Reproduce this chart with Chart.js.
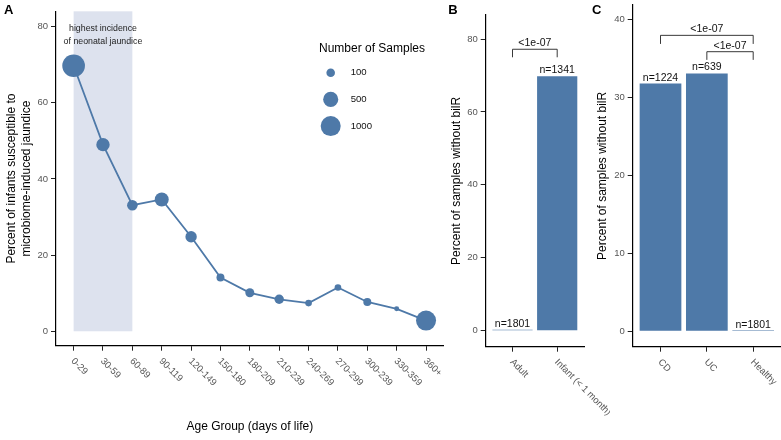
<!DOCTYPE html>
<html>
<head>
<meta charset="utf-8">
<script src="https://cdn.jsdelivr.net/npm/chart.js@4.4.0/dist/chart.umd.min.js"></script>
<style>
  html, body { margin: 0; padding: 0; background: #fff; }
  #wrap { position: relative; width: 781px; height: 440px; overflow: hidden; }
  canvas { position: absolute; top: 0; }
</style>
</head>
<body>
<div id="wrap">
  <canvas id="panelA" width="455" height="440" style="left:0px"></canvas>
  <canvas id="panelB" width="170" height="440" style="left:440px"></canvas>
  <canvas id="panelC" width="191" height="440" style="left:590px"></canvas>
</div>
<script>
// A - by age group
var ageGroups = ['0-29', '30-59', '60-89', '90-119', '120-149', '150-180', '180-209',
    '210-239', '240-269', '270-299', '300-239', '330-359', '360+'];
var pctSusceptible = [69.7, 49.0, 33.1, 34.6, 24.8, 14.1, 10.1, 8.4, 7.4, 11.5, 7.7, 5.9, 2.8];
var nSamples = [1341, 364, 190, 409, 234, 78, 116, 133, 39, 39, 78, 10, 1000];
var legendSizes = [100, 500, 1000];
var yTicksA = [0, 20, 40, 60, 80];

// B - adult vs infant
var groupsB = ['Adult', 'Infant (< 1 month)'];
var pctB = [0.06, 69.8];
var nB = [1801, 1341];
var yTicksB = [0, 20, 40, 60, 80];

// C - IBD vs healthy
var groupsC = ['CD', 'UC', 'Healthy'];
var pctC = [31.8, 33.1, 0.06];
var nC = [1224, 639, 1801];
var yTicksC = [0, 10, 20, 30, 40];

var pText = '<1e-07';

var blue = '#4e79a8';
var FONT = '"Liberation Sans", Arial, sans-serif';
Chart.defaults.font.family = FONT;

function sizeFor(n) {
    return 1.66 + 0.264 * Math.sqrt(n);
}

function xy(vals) {
    var out = [];
    for (var i = 0; i < vals.length; i++) {
        out.push({ x: i, y: vals[i] });
    }
    return out;
}

function yScale(min, max, ticks, title, titlePad, w) {
    return {
        type: 'linear',
        min: min,
        max: max,
        afterBuildTicks: function (s) {
            s.ticks = ticks.map(function (v) { return { value: v }; });
        },
        afterFit: function (s) {
            s.width = w;
            s.paddingTop = 0;
            s.paddingBottom = 0;
        },
        border: { display: true, color: '#000', width: 1.2 },
        grid: { drawOnChartArea: false, tickLength: 5, tickColor: '#222', lineWidth: 1 },
        ticks: { color: '#555', padding: 3, font: { size: 9.5 } },
        title: {
            display: true,
            text: title,
            color: '#000',
            font: { size: 12 },
            padding: { top: titlePad, bottom: 0 }
        }
    };
}

function xScale(n, h) {
    return {
        type: 'linear',
        offset: false,
        min: -0.6,
        max: n - 1 + 0.6,
        afterBuildTicks: function (s) {
            var t = [];
            for (var i = 0; i < n; i++) t.push({ value: i });
            s.ticks = t;
        },
        afterFit: function (s) {
            s.height = h;
        },
        border: { display: true, color: '#000', width: 1.2 },
        grid: { offset: false, drawOnChartArea: false, tickLength: 5, tickColor: '#222', lineWidth: 1 },
        ticks: { display: false }
    };
}

function drawTickLabels(chart, labels) {
    var ctx = chart.ctx;
    var x = chart.scales.x;
    var bottom = chart.chartArea.bottom;
    ctx.save();
    ctx.fillStyle = '#555';
    ctx.font = '9.5px ' + FONT;
    ctx.textAlign = 'left';
    ctx.textBaseline = 'middle';
    for (var i = 0; i < labels.length; i++) {
        ctx.save();
        ctx.translate(x.getPixelForValue(i) - 1, bottom + 14);
        ctx.rotate(Math.PI / 4);
        ctx.fillText(labels[i], 0, 0);
        ctx.restore();
    }
    ctx.restore();
}

function drawLetter(chart, letter, px) {
    var ctx = chart.ctx;
    ctx.save();
    ctx.fillStyle = '#000';
    ctx.font = 'bold 13px ' + FONT;
    ctx.textAlign = 'left';
    ctx.textBaseline = 'alphabetic';
    ctx.fillText(letter, px, 13.7);
    ctx.restore();
}

function drawCounts(chart, vals, counts) {
    var ctx = chart.ctx;
    var x = chart.scales.x, y = chart.scales.y;
    ctx.save();
    ctx.fillStyle = '#111';
    ctx.font = '10.5px ' + FONT;
    ctx.textAlign = 'center';
    ctx.textBaseline = 'alphabetic';
    for (var i = 0; i < vals.length; i++) {
        ctx.fillText('n=' + counts[i], x.getPixelForValue(i), y.getPixelForValue(vals[i]) - 3);
    }
    ctx.restore();
}

function drawBracket(chart, from, to, top, leg) {
    var ctx = chart.ctx;
    var x = chart.scales.x, y = chart.scales.y;
    var x1 = x.getPixelForValue(from), x2 = x.getPixelForValue(to);
    var yt = y.getPixelForValue(top), yl = y.getPixelForValue(leg);
    ctx.save();
    ctx.strokeStyle = '#222';
    ctx.lineWidth = 0.9;
    ctx.beginPath();
    ctx.moveTo(x1, yl);
    ctx.lineTo(x1, yt);
    ctx.lineTo(x2, yt);
    ctx.lineTo(x2, yl);
    ctx.stroke();
    ctx.fillStyle = '#111';
    ctx.font = '10.5px ' + FONT;
    ctx.textAlign = 'center';
    ctx.textBaseline = 'alphabetic';
    ctx.fillText(pText, (x1 + x2) / 2, yt - 3);
    ctx.restore();
}

// PANEL A
var extrasA = {
    id: 'extrasA',
    beforeDatasetsDraw: function (chart) {
        var ctx = chart.ctx, x = chart.scales.x, y = chart.scales.y, a = chart.chartArea;
        var x1 = x.getPixelForValue(0), x2 = x.getPixelForValue(2);
        ctx.save();
        ctx.fillStyle = '#dde2ee';
        ctx.fillRect(x1, a.top, x2 - x1, y.getPixelForValue(0) - a.top);
        ctx.fillStyle = '#222';
        ctx.font = '8.8px ' + FONT;
        ctx.textAlign = 'center';
        ctx.textBaseline = 'middle';
        ctx.fillText('highest incidence', x.getPixelForValue(1), a.top + 17.5);
        ctx.fillText('of neonatal jaundice', x.getPixelForValue(1), a.top + 30);
        ctx.restore();
    },
    afterDraw: function (chart) {
        var ctx = chart.ctx;
        drawTickLabels(chart, ageGroups);
        drawLetter(chart, 'A', 4);
        // size legend
        ctx.save();
        ctx.fillStyle = '#000';
        ctx.font = '12px ' + FONT;
        ctx.textAlign = 'center';
        ctx.textBaseline = 'alphabetic';
        ctx.fillText('Number of Samples', 372, 52);
        ctx.font = '9.6px ' + FONT;
        ctx.textAlign = 'left';
        ctx.textBaseline = 'middle';
        for (var i = 0; i < legendSizes.length; i++) {
            var cy = 72.7 + i * 26.7;
            ctx.fillStyle = blue;
            ctx.beginPath();
            ctx.arc(330.7, cy, sizeFor(legendSizes[i]), 0, Math.PI * 2);
            ctx.fill();
            ctx.fillStyle = '#111';
            ctx.fillText(String(legendSizes[i]), 350.7, cy);
        }
        ctx.restore();
    }
};

new Chart(document.getElementById('panelA'), {
    type: 'line',
    data: {
        datasets: [{
            data: xy(pctSusceptible),
            borderColor: blue,
            backgroundColor: blue,
            borderWidth: 1.8,
            tension: 0,
            pointRadius: nSamples.map(sizeFor),
            pointBackgroundColor: blue,
            pointBorderWidth: 0
        }]
    },
    options: {
        responsive: false,
        animation: false,
        events: [],
        devicePixelRatio: 1,
        layout: { padding: { left: 0, top: 5, right: 4.3, bottom: 0 } },
        plugins: { legend: { display: false }, tooltip: { enabled: false } },
        scales: {
            x: Object.assign(xScale(ageGroups.length, 94.3), {
                title: { display: true, text: 'Age Group (days of life)', color: '#000', font: { size: 12 }, padding: { top: 0, bottom: 6 }, align: 'center' }
            }),
            y: yScale(-3.79, 84.0, yTicksA, ['Percent of infants susceptible to', 'microbiome-induced jaundice'], 4.8, 56)
        }
    },
    plugins: [extrasA]
});

// PANEL B
var extrasB = {
    id: 'extrasB',
    afterDraw: function (chart) {
        drawTickLabels(chart, groupsB);
        drawLetter(chart, 'B', 8.3);
        drawCounts(chart, pctB, nB);
        drawBracket(chart, 0, 1, 77.2, 75.0);
    }
};

new Chart(document.getElementById('panelB'), {
    type: 'bar',
    data: {
        datasets: [{
            data: xy(pctB),
            backgroundColor: blue,
            borderWidth: 0,
            minBarLength: 1,
            barPercentage: 0.9,
            categoryPercentage: 1
        }]
    },
    options: {
        responsive: false,
        animation: false,
        events: [],
        devicePixelRatio: 1,
        layout: { padding: { left: 0, top: 15, right: 26, bottom: 0 } },
        plugins: { legend: { display: false }, tooltip: { enabled: false } },
        scales: {
            x: xScale(groupsB.length, 93.3),
            y: yScale(-4.4, 86.6, yTicksB, 'Percent of samples without bilR', 9.5, 45.7)
        }
    },
    plugins: [extrasB]
});

// PANEL C
var extrasC = {
    id: 'extrasC',
    afterDraw: function (chart) {
        drawTickLabels(chart, groupsC);
        drawLetter(chart, 'C', 2);
        drawCounts(chart, pctC, nC);
        drawBracket(chart, 0, 2, 38.0, 36.9);
        drawBracket(chart, 1, 2, 35.9, 34.85);
    }
};

new Chart(document.getElementById('panelC'), {
    type: 'bar',
    data: {
        datasets: [{
            data: xy(pctC),
            backgroundColor: blue,
            borderWidth: 0,
            minBarLength: 1,
            barPercentage: 0.9,
            categoryPercentage: 1
        }]
    },
    options: {
        responsive: false,
        animation: false,
        events: [],
        devicePixelRatio: 1,
        layout: { padding: { left: 0, top: 5, right: 0, bottom: 0 } },
        plugins: { legend: { display: false }, tooltip: { enabled: false } },
        scales: {
            x: xScale(groupsC.length, 93.3),
            y: yScale(-2.0, 41.9, yTicksC, 'Percent of samples without bilR', 5.1, 42.7)
        }
    },
    plugins: [extrasC]
});
</script>
</body>
</html>
